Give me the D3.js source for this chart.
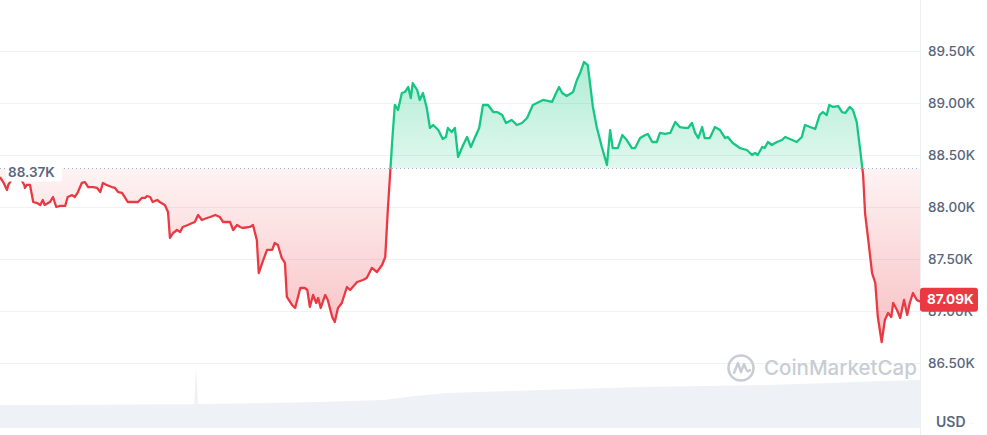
<!DOCTYPE html>
<html><head><meta charset="utf-8">
<script src="https://cdn.jsdelivr.net/npm/d3@7/dist/d3.min.js"></script>
<style>
html,body{margin:0;padding:0;background:#fff;}
svg{display:block;font-family:Inter,"Noto Sans",sans-serif;}
</style></head>
<body>
<svg id="chart" width="987" height="435"></svg>
<script>
// ---- data (minutes since start of the 24h window, price in USD) ----
const times = [0,5,11,13,20,30,38,39,42,47,52,58,63,67,70,78,83,88,94,102,106,113,117,122,128,133,138,146,152,157,161,167,175,180,185,191,196,200,208,216,222,227,230,235,239,246,250,258,263,266,271,277,282,286,294,301,305,310,316,324,329,337,344,349,360,365,371,376,380,391,396,402,405,412,418,426,430,435,441,446,449,457,462,470,477,481,485,490,495,498,502,509,513,520,524,529,535,543,548,559,568,574,582,590,598,603,607,614,618,623,629,634,639,643,646,653,657,662,668,673,678,686,693,698,701,707,712,717,725,731,737,743,750,756,764,772,778,786,792,801,809,817,825,834,850,864,869,875,880,887,897,903,908,914,920,928,934,942,950,955,959,967,974,981,989,994,1002,1010,1014,1021,1028,1033,1041,1049,1057,1064,1072,1077,1083,1088,1093,1099,1103,1111,1119,1127,1135,1139,1147,1158,1169,1177,1182,1186,1193,1197,1202,1208,1216,1224,1229,1240,1247,1255,1260,1268,1276,1283,1288,1294,1298,1304,1312,1318,1323,1330,1335,1341,1346,1351,1354,1359,1365,1370,1374,1380,1385,1390,1395,1398,1404,1409,1415,1420,1424,1429,1435,1440];
const prices = [88288,88240,88163,88212,88279,88298,88212,88183,88212,88212,88048,88038,88019,88067,88019,88048,88096,88000,88010,88010,88096,88115,88096,88144,88231,88240,88192,88192,88183,88144,88231,88212,88192,88183,88144,88135,88087,88048,88048,88048,88087,88087,88106,88096,88048,88067,88048,88019,87952,87702,87750,87779,87760,87808,87827,87846,87856,87923,87875,87894,87904,87923,87904,87856,87856,87779,87827,87808,87798,87808,87827,87683,87365,87490,87587,87587,87654,87635,87510,87462,87135,87058,87029,87221,87221,87202,87039,87154,87077,87125,87029,87154,87106,86942,86894,87029,87077,87231,87202,87279,87298,87317,87414,87375,87442,87519,87971,88644,88981,88933,89096,89106,89154,89048,89192,89125,89029,89096,88952,88760,88788,88740,88654,88673,88760,88721,88760,88481,88596,88673,88577,88663,88760,88981,88981,88913,88913,88885,88808,88837,88788,88808,88856,88981,89029,89010,89077,89154,89096,89067,89106,89221,89288,89394,89365,88962,88769,88577,88404,88740,88567,88567,88692,88644,88567,88567,88663,88692,88702,88625,88625,88712,88702,88712,88817,88769,88760,88760,88808,88712,88663,88769,88663,88663,88769,88740,88663,88673,88615,88567,88548,88500,88519,88500,88577,88567,88625,88596,88625,88644,88673,88644,88625,88673,88788,88769,88750,88885,88913,88885,88981,88962,88971,88913,88904,88962,88933,88817,88567,88308,87942,87683,87365,87269,86942,86702,86913,86981,86942,87077,87010,86933,87106,86962,87077,87173,87106,87090];
const openPrice = 88370;
const lastPrice = 87090;
// volume (billions USD, per sample)
const volTimes  = [0,100,200,300,304,307,310,400,500,600,650,700,800,900,950,1000,1100,1200,1300,1380,1440];
const volValues = [1.15,1.15,1.17,1.19,1.19,3.0,1.2,1.24,1.3,1.4,1.6,1.75,1.85,1.95,2.0,2.05,2.1,2.15,2.25,2.35,2.4];
const tickValues = [86500,87000,87500,88000,88500,89000,89500];
const tickLabels = ["86.50K","87.00K","87.50K","88.00K","88.50K","89.00K","89.50K"];
const openLabel = "88.37K";
const lastLabel = "87.09K";
const currency = "USD";
const watermark = "CoinMarketCap";

// ---- drawing ----
const W = 987, H = 435, plotR = 920;
const svg = d3.select("#chart");
const x = d3.scaleLinear().domain([0,1440]).range([0, plotR]);
const y = d3.scaleLinear().domain([86500, 89500]).range([363, 51]);
const yv = d3.scaleLinear().domain([0, 3.2]).range([428, 364]);
const data = times.map((t,i)=>({t, p: prices[i]}));
const vdata = volTimes.map((t,i)=>({t, v: volValues[i]}));
const yb = y(openPrice);
const GREEN = "#16c784", RED = "#ea3943";

const defs = svg.append("defs");
const gg = defs.append("linearGradient").attr("id","gGreen").attr("gradientUnits","userSpaceOnUse")
  .attr("x1",0).attr("x2",0).attr("y1",y(89400)).attr("y2",yb);
gg.append("stop").attr("offset",0).attr("stop-color",GREEN).attr("stop-opacity",0.34);
gg.append("stop").attr("offset",1).attr("stop-color",GREEN).attr("stop-opacity",0.13);
const gr = defs.append("linearGradient").attr("id","gRed").attr("gradientUnits","userSpaceOnUse")
  .attr("x1",0).attr("x2",0).attr("y1",yb).attr("y2",y(86700));
gr.append("stop").attr("offset",0).attr("stop-color",RED).attr("stop-opacity",0.06);
gr.append("stop").attr("offset",1).attr("stop-color",RED).attr("stop-opacity",0.32);
defs.append("clipPath").attr("id","above").append("rect").attr("x",0).attr("y",0).attr("width",plotR).attr("height",yb);
defs.append("clipPath").attr("id","below").append("rect").attr("x",0).attr("y",yb).attr("width",plotR).attr("height",H-yb);

// gridlines
svg.append("g").selectAll("line").data(tickValues).join("line")
  .attr("x1",0).attr("x2",plotR).attr("y1",d=>Math.round(y(d))+0.5).attr("y2",d=>Math.round(y(d))+0.5)
  .attr("stroke","#eff2f5").attr("stroke-width",1);

// volume
svg.append("path").datum(vdata)
  .attr("d", d3.area().x(d=>x(d.t)).y0(428).y1(d=>yv(d.v)))
  .attr("fill","#eef1f5");

// watermark
const wm = svg.append("g").attr("transform","translate(741,368)");
wm.append("circle").attr("r",12.5).attr("fill","none").attr("stroke","#c8cdd4").attr("stroke-width",2.6);
wm.append("path").attr("d","M-7,5 L-3,-5 L0,4 L3,-4 L5,1 Q7,5 9,2")
  .attr("fill","none").attr("stroke","#c8cdd4").attr("stroke-width",2.4).attr("stroke-linejoin","round").attr("stroke-linecap","round");
svg.append("text").attr("x",764).attr("y",375).attr("font-size",20.5).attr("font-weight",500)
  .attr("fill","#c8cdd4").text(watermark);

// area fills
const area = d3.area().x(d=>x(d.t)).y0(yb).y1(d=>y(d.p));
svg.append("path").datum(data).attr("d",area).attr("fill","url(#gGreen)").attr("clip-path","url(#above)");
svg.append("path").datum(data).attr("d",area).attr("fill","url(#gRed)").attr("clip-path","url(#below)");

// baseline
svg.append("line").attr("x1",0).attr("x2",plotR).attr("y1",yb).attr("y2",yb)
  .attr("stroke","#a6b0c3").attr("stroke-width",1).attr("stroke-dasharray","1,3");

// lines
const line = d3.line().x(d=>x(d.t)).y(d=>y(d.p));
svg.append("path").datum(data).attr("d",line).attr("fill","none").attr("stroke",GREEN).attr("stroke-width",2.3).attr("stroke-linejoin","round").attr("clip-path","url(#above)");
svg.append("path").datum(data).attr("d",line).attr("fill","none").attr("stroke",RED).attr("stroke-width",2.3).attr("stroke-linejoin","round").attr("clip-path","url(#below)");

// open price label
svg.append("rect").attr("x",6).attr("y",yb-9).attr("width",56).attr("height",22).attr("fill","#fff");
svg.append("text").attr("x",8).attr("y",yb+4).attr("dy","0.35em").attr("font-size",13.5).attr("font-weight",600)
  .attr("fill","#58667e").text(openLabel);

// right axis
svg.append("line").attr("x1",plotR+0.5).attr("x2",plotR+0.5).attr("y1",0).attr("y2",H).attr("stroke","#eff2f5");
const axis = d3.axisRight(y).tickValues(tickValues).tickSize(0).tickPadding(0)
  .tickFormat(d=>tickLabels[tickValues.indexOf(d)]);
const ag = svg.append("g").attr("transform",`translate(${plotR+8},0)`).call(axis);
ag.select(".domain").remove();
ag.selectAll("text").attr("font-size",13.5).attr("font-weight",500).attr("fill","#58667e").attr("font-family","Inter,sans-serif");

// last price tag (covers the 87.00K tick as in the source)
const yl = y(lastPrice);
svg.append("rect").attr("x",plotR).attr("y",yl-14).attr("width",58).attr("height",24).attr("rx",3).attr("fill",RED);
svg.append("text").attr("x",plotR+7).attr("y",yl-2).attr("dy","0.35em").attr("font-size",13.5).attr("font-weight",700)
  .attr("fill","#fff").text(lastLabel);

// currency
svg.append("text").attr("x",936).attr("y",422).attr("dy","0.35em").attr("font-size",14).attr("font-weight",600)
  .attr("fill","#58667e").text(currency);
</script>
</body></html>
